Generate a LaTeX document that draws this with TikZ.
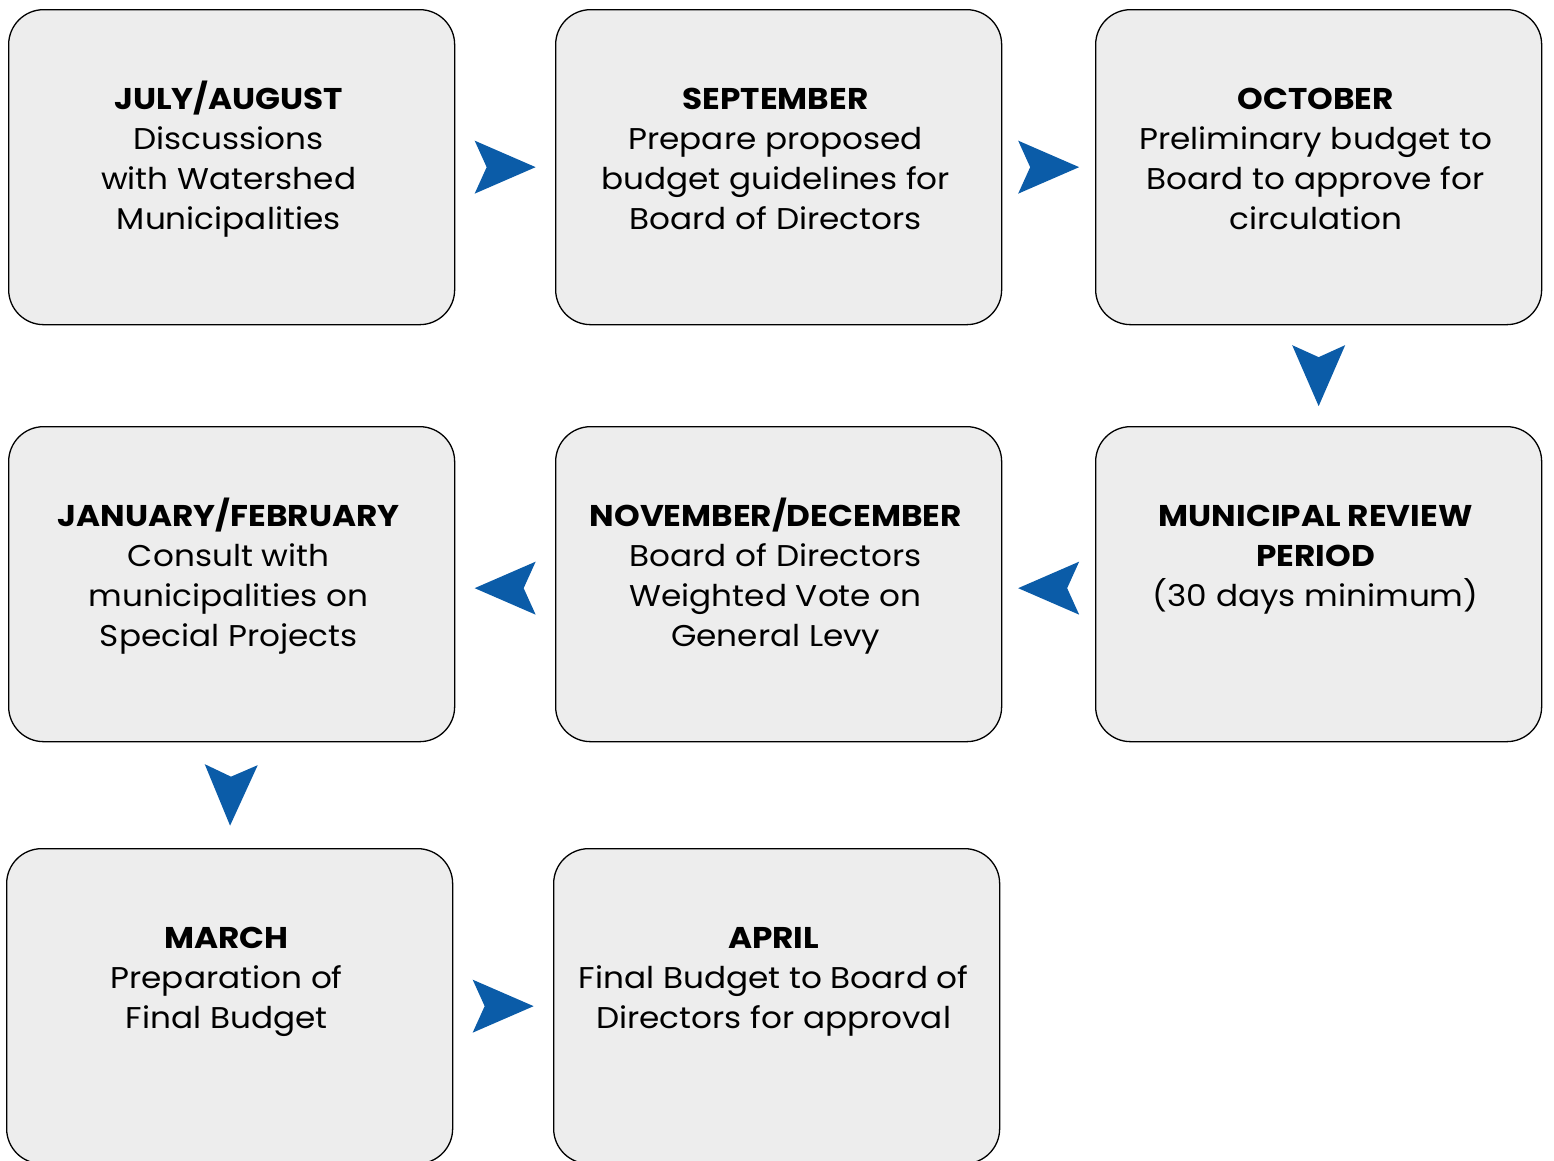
\documentclass[tikz,border=0pt]{standalone}
\usepackage{fontspec}
\setmainfont{Poppins}[FakeStretch=1.09]
\usetikzlibrary{decorations.markings}
\definecolor{boxfill}{HTML}{EDEDED}
\definecolor{arrowblue}{HTML}{0B5CA8}
\newcommand{\boxtext}[1]{\parbox[c][315pt][t]{440pt}{\centering\fontsize{30}{40}\selectfont\rule{0pt}{100pt}#1}\hspace*{6pt}}
\tikzset{
  stagebox/.style={draw=black, line width=1.3pt, fill=boxfill, rounded corners=35pt, inner sep=0pt, anchor=north west},
  flowarrow/.style={decoration={markings, mark=at position 0.5 with {\fill[arrowblue] (30.5pt,0pt) -- (-30.5pt,26.5pt) -- (-18.5pt,0pt) -- (-30.5pt,-26.5pt) -- cycle;}}, decorate}
}
\begin{document}
\begin{tikzpicture}[x=1pt,y=-1pt]
\useasboundingbox (0,0) rectangle (1554,1160);
\node[stagebox] (jul) at (8,9) {\boxtext{\textbf{JULY/AUGUST}\\Discussions\\with Watershed\\Municipalities}};
\node[stagebox] (sep) at (555,9) {\boxtext{\textbf{SEPTEMBER}\\Prepare proposed\\budget guidelines for\\Board of Directors}};
\node[stagebox] (oct) at (1095,9) {\boxtext{\textbf{OCTOBER}\\Preliminary budget to\\Board to approve for\\circulation}};
\node[stagebox] (jan) at (8,426) {\boxtext{\textbf{JANUARY/FEBRUARY}\\Consult with\\municipalities on\\Special Projects}};
\node[stagebox] (nov) at (555,426) {\boxtext{\textbf{NOVEMBER/DECEMBER}\\Board of Directors\\Weighted Vote on\\General Levy}};
\node[stagebox] (mun) at (1095,426) {\boxtext{\textbf{MUNICIPAL REVIEW}\\\textbf{PERIOD}\\(30 days minimum)}};
\node[stagebox] (mar) at (6,848) {\boxtext{\textbf{MARCH}\\Preparation of\\Final Budget}};
\node[stagebox] (apr) at (553,848) {\boxtext{\textbf{APRIL}\\Final Budget to Board of\\Directors for approval}};
\path[flowarrow] (jul.east) -- (sep.west);
\path[flowarrow] (sep.east) -- (oct.west);
\path[flowarrow] (oct.south) -- (mun.north);
\path[flowarrow] ([yshift=-4pt]mun.west) -- ([yshift=-4pt]nov.east);
\path[flowarrow] ([yshift=-4pt]nov.west) -- ([yshift=-4pt]jan.east);
\path[flowarrow] (jan.south) -- (mar.north);
\path[flowarrow] (mar.east) -- (apr.west);
\end{tikzpicture}
\end{document}
